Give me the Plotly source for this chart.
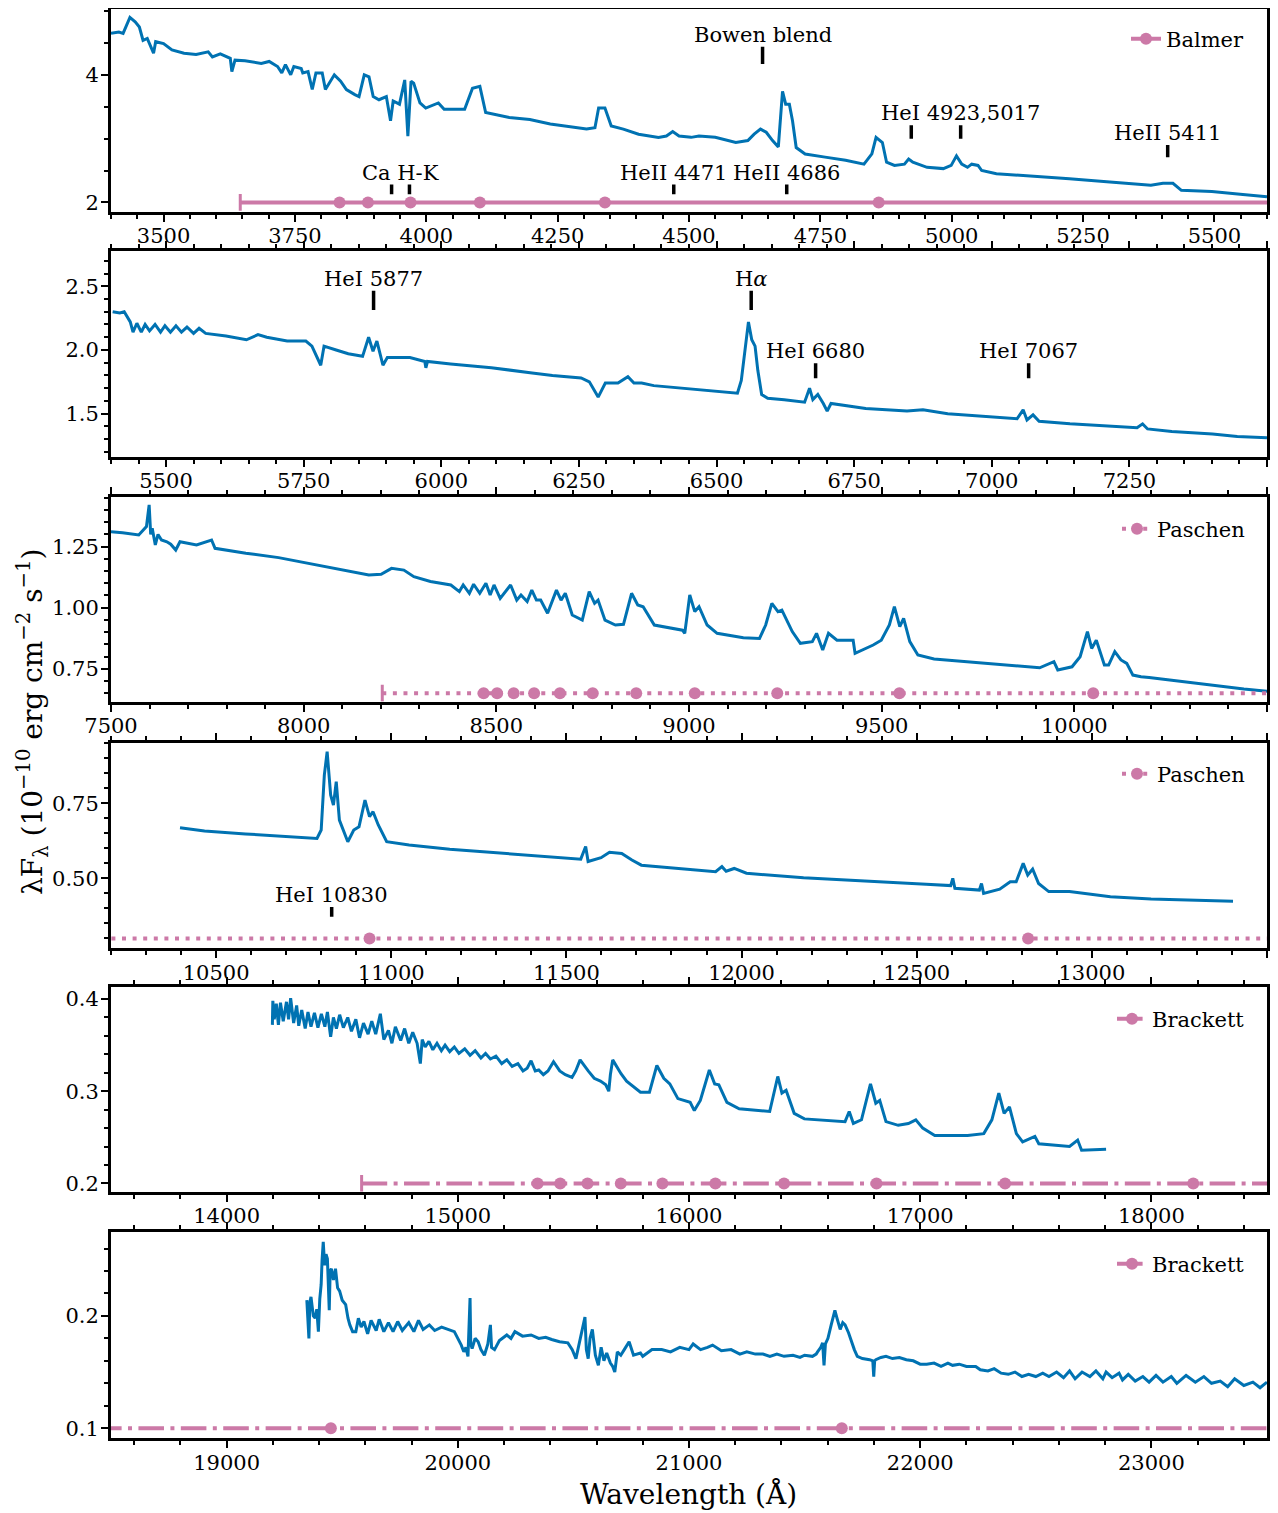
import plotly.graph_objects as go

# ---------------- data ----------------
# Panel 1 (optical blue)
wl1 = [3400, 3415, 3423, 3436, 3446, 3454, 3461, 3469, 3481, 3485,
       3500, 3516, 3539, 3562, 3585, 3593, 3608, 3627, 3630, 3636,
       3655, 3686, 3701, 3717, 3725, 3732, 3742, 3748, 3762, 3765,
       3775, 3783, 3790, 3802, 3808, 3825, 3837, 3848, 3864, 3872,
       3882, 3891, 3899, 3910, 3924, 3932, 3937, 3949, 3959, 3965,
       3971, 3976, 3988, 3999, 4023, 4034, 4073, 4088, 4102, 4113,
       4158, 4197, 4236, 4305, 4321, 4328, 4340, 4352, 4375, 4404,
       4442, 4457, 4469, 4481, 4504, 4519, 4550, 4589, 4612, 4624,
       4636, 4647, 4659, 4670, 4678, 4684, 4691, 4697, 4704, 4721,
       4759, 4798, 4833, 4848, 4856, 4868, 4876, 4891, 4910, 4918,
       4926, 4937, 4953, 4984, 4999, 5009, 5019, 5030, 5038, 5050,
       5057, 5085, 5146, 5224, 5301, 5379, 5402, 5421, 5437, 5495,
       5549, 5596, 5600]
fl1 = [4.65, 4.67, 4.65, 4.90, 4.83, 4.75, 4.54, 4.57, 4.34, 4.52,
       4.49, 4.39, 4.34, 4.32, 4.36, 4.28, 4.33, 4.26, 4.05, 4.23,
       4.22, 4.18, 4.21, 4.13, 4.03, 4.16, 4.00, 4.13, 4.10, 4.03,
       4.05, 3.77, 4.03, 4.03, 3.77, 4.00, 3.90, 3.77, 3.69, 3.66,
       4.00, 3.97, 3.66, 3.61, 3.66, 3.28, 3.59, 3.54, 3.92, 3.04,
       3.90, 3.87, 3.56, 3.48, 3.56, 3.46, 3.46, 3.79, 3.82, 3.41,
       3.33, 3.30, 3.23, 3.15, 3.17, 3.48, 3.48, 3.20, 3.15, 3.07,
       3.02, 3.04, 3.11, 3.04, 3.02, 3.04, 3.02, 2.94, 2.97, 3.07,
       3.15, 3.10, 2.97, 2.87, 3.74, 3.54, 3.54, 3.28, 2.86, 2.76,
       2.71, 2.66, 2.60, 2.76, 3.02, 2.94, 2.63, 2.58, 2.60, 2.68,
       2.63, 2.60, 2.55, 2.53, 2.58, 2.73, 2.60, 2.55, 2.60, 2.58,
       2.50, 2.45, 2.42, 2.37, 2.32, 2.27, 2.30, 2.30, 2.19, 2.17,
       2.13, 2.09, 2.09]

# Panel 2 (optical red)
wl2 = [5403, 5416, 5424, 5435, 5440, 5447, 5455, 5462, 5470, 5480,
       5490, 5498, 5508, 5518, 5528, 5538, 5550, 5560, 5572, 5609,
       5646, 5667, 5683, 5720, 5754, 5765, 5781, 5787, 5809, 5831,
       5857, 5868, 5876, 5883, 5894, 5902, 5943, 5970, 5972, 5975,
       6017, 6091, 6165, 6202, 6254, 6269, 6285, 6298, 6321, 6339,
       6350, 6364, 6386, 6438, 6512, 6538, 6545, 6558, 6564, 6570,
       6575, 6582, 6593, 6623, 6660, 6669, 6675, 6684, 6694, 6701,
       6708, 6771, 6846, 6875, 6920, 6994, 7046, 7057, 7064, 7075,
       7086, 7142, 7216, 7264, 7274, 7283, 7327, 7401, 7446, 7498,
       7500]
fl2 = [2.30, 2.29, 2.30, 2.22, 2.14, 2.21, 2.14, 2.20, 2.15, 2.20,
       2.14, 2.19, 2.14, 2.19, 2.14, 2.18, 2.13, 2.17, 2.13, 2.11,
       2.08, 2.12, 2.10, 2.07, 2.07, 2.03, 1.88, 2.03, 2.00, 1.97,
       1.95, 2.10, 1.99, 2.07, 1.88, 1.94, 1.94, 1.91, 1.86, 1.91,
       1.89, 1.86, 1.82, 1.80, 1.78, 1.75, 1.63, 1.74, 1.74, 1.79,
       1.74, 1.74, 1.72, 1.70, 1.67, 1.66, 1.76, 2.22, 2.08, 2.03,
       1.84, 1.65, 1.62, 1.61, 1.59, 1.70, 1.61, 1.65, 1.58, 1.52,
       1.58, 1.54, 1.52, 1.53, 1.50, 1.48, 1.46, 1.53, 1.45, 1.49,
       1.44, 1.42, 1.40, 1.39, 1.42, 1.38, 1.36, 1.34, 1.32, 1.31,
       1.31]

# Panel 3 (Paschen region)
wl3 = [7500, 7530, 7572, 7592, 7599, 7603, 7607, 7615, 7622, 7631,
       7645, 7655, 7668, 7679, 7722, 7761, 7770, 7850, 7935, 8020,
       8105, 8169, 8201, 8228, 8260, 8286, 8329, 8382, 8404, 8414,
       8430, 8441, 8457, 8473, 8484, 8494, 8510, 8537, 8553, 8564,
       8580, 8592, 8604, 8615, 8633, 8656, 8668, 8679, 8697, 8723,
       8741, 8755, 8764, 8782, 8809, 8830, 8851, 8867, 8881, 8894,
       8910, 8983, 8989, 9002, 9015, 9026, 9047, 9073, 9141, 9183,
       9199, 9215, 9231, 9241, 9268, 9289, 9320, 9331, 9347, 9362,
       9384, 9426, 9431, 9478, 9499, 9520, 9533, 9547, 9557, 9573,
       9594, 9636, 9720, 9826, 9910, 9947, 9957, 9994, 10015, 10034,
       10045, 10057, 10078, 10089, 10105, 10121, 10136, 10152, 10173, 10194,
       10400, 10440, 10500]
fl3 = [1.311, 1.307, 1.298, 1.332, 1.421, 1.30, 1.325, 1.257, 1.30, 1.277,
       1.27, 1.26, 1.236, 1.270, 1.257, 1.277, 1.243, 1.223, 1.205, 1.179,
       1.154, 1.134, 1.137, 1.161, 1.154, 1.127, 1.107, 1.093, 1.066, 1.093,
       1.059, 1.096, 1.059, 1.100, 1.052, 1.093, 1.038, 1.093, 1.031, 1.052,
       1.025, 1.072, 1.031, 1.031, 0.977, 1.072, 1.031, 1.059, 0.970, 0.949,
       1.066, 1.018, 1.031, 0.949, 0.929, 0.932, 1.059, 1.011, 1.004, 0.970,
       0.929, 0.908, 0.895, 1.052, 0.984, 1.004, 0.929, 0.895, 0.877, 0.874,
       0.929, 1.018, 0.984, 0.990, 0.902, 0.854, 0.861, 0.895, 0.827, 0.895,
       0.867, 0.867, 0.813, 0.847, 0.867, 0.929, 1.004, 0.922, 0.956, 0.861,
       0.806, 0.790, 0.779, 0.765, 0.754, 0.779, 0.745, 0.758, 0.799, 0.902,
       0.833, 0.867, 0.765, 0.765, 0.820, 0.786, 0.772, 0.724, 0.717, 0.714,
       0.673, 0.667, 0.658]

# Panel 4 (J band)
wl4 = [10397, 10467, 10584, 10701, 10788, 10800, 10809, 10817, 10827, 10835,
       10843, 10852, 10876, 10893, 10908, 10925, 10938, 10948, 10963, 10987,
       11051, 11167, 11284, 11401, 11541, 11555, 11562, 11599, 11623, 11658,
       11687, 11714, 11827, 11926, 11944, 11956, 11979, 12014, 12177, 12294,
       12411, 12527, 12597, 12603, 12609, 12679, 12685, 12691, 12737, 12767,
       12784, 12804, 12817, 12831, 12848, 12877, 12936, 13053, 13169, 13286,
       13403]
fl4 = [0.669, 0.658, 0.648, 0.639, 0.633, 0.661, 0.844, 0.922, 0.778, 0.744,
       0.822, 0.694, 0.622, 0.661, 0.672, 0.761, 0.706, 0.722, 0.678, 0.622,
       0.611, 0.597, 0.587, 0.576, 0.564, 0.606, 0.556, 0.569, 0.587, 0.583,
       0.561, 0.544, 0.533, 0.522, 0.539, 0.524, 0.533, 0.517, 0.502, 0.494,
       0.487, 0.480, 0.476, 0.500, 0.467, 0.461, 0.483, 0.450, 0.464, 0.489,
       0.489, 0.550, 0.511, 0.531, 0.483, 0.456, 0.456, 0.439, 0.431, 0.428,
       0.424]

# Panel 5 (H band)
wl5 = [14198, 14200, 14206, 14215, 14224, 14233, 14245, 14259, 14268, 14277,
       14290, 14303, 14312, 14325, 14340, 14352, 14365, 14380, 14395, 14410,
       14425, 14436, 14450, 14462, 14475, 14489, 14505, 14524, 14540, 14559,
       14575, 14592, 14612, 14628, 14645, 14665, 14680, 14700, 14715, 14730,
       14753, 14770, 14788, 14805, 14824, 14838, 14846, 14859, 14875, 14892,
       14910, 14929, 14945, 14965, 14985, 15005, 15030, 15053, 15075, 15100,
       15120, 15141, 15165, 15190, 15212, 15235, 15260, 15282, 15300, 15317,
       15335, 15350, 15370, 15390, 15414, 15441, 15465, 15494, 15510, 15529,
       15564, 15590, 15617, 15640, 15653, 15660, 15670, 15706, 15730, 15760,
       15790, 15829, 15861, 15891, 15917, 15952, 16005, 16023, 16049, 16088,
       16111, 16129, 16164, 16217, 16323, 16349, 16384, 16402, 16420, 16455,
       16499, 16675, 16693, 16711, 16746, 16785, 16808, 16825, 16852, 16905,
       16949, 16981, 17011, 17063, 17205, 17275, 17310, 17340, 17363, 17386,
       17416, 17443, 17496, 17513, 17646, 17681, 17698, 17804]
fl5 = [0.372, 0.398, 0.378, 0.395, 0.372, 0.396, 0.376, 0.397, 0.378, 0.401,
       0.374, 0.393, 0.371, 0.388, 0.368, 0.386, 0.370, 0.385, 0.369, 0.384,
       0.370, 0.386, 0.359, 0.380, 0.368, 0.383, 0.369, 0.380, 0.365, 0.378,
       0.358, 0.374, 0.362, 0.376, 0.362, 0.384, 0.356, 0.366, 0.352, 0.370,
       0.355, 0.368, 0.352, 0.364, 0.352, 0.330, 0.356, 0.348, 0.354, 0.345,
       0.352, 0.344, 0.350, 0.343, 0.348, 0.341, 0.346, 0.339, 0.344, 0.336,
       0.341, 0.335, 0.338, 0.330, 0.334, 0.327, 0.330, 0.322, 0.325, 0.333,
       0.322, 0.323, 0.318, 0.322, 0.332, 0.322, 0.318, 0.315, 0.322, 0.334,
       0.322, 0.314, 0.311, 0.307, 0.300, 0.318, 0.334, 0.319, 0.311, 0.305,
       0.299, 0.299, 0.328, 0.314, 0.308, 0.292, 0.288, 0.279, 0.290, 0.323,
       0.308, 0.307, 0.288, 0.281, 0.278, 0.278, 0.316, 0.298, 0.301, 0.276,
       0.270, 0.267, 0.278, 0.265, 0.269, 0.308, 0.287, 0.290, 0.267, 0.263,
       0.265, 0.269, 0.260, 0.252, 0.252, 0.254, 0.269, 0.298, 0.276, 0.283,
       0.254, 0.245, 0.251, 0.243, 0.240, 0.247, 0.236, 0.237]

# Panel 6 (K band)
wl6 = [19347, 19350, 19356, 19360, 19365, 19375, 19383, 19390, 19397, 19403,
       19409, 19413, 19418, 19424, 19430, 19436, 19444, 19448, 19453, 19462,
       19471, 19480, 19489, 19500, 19515, 19525, 19533, 19545, 19559, 19570,
       19582, 19594, 19610, 19625, 19647, 19660, 19680, 19700, 19720, 19740,
       19760, 19788, 19810, 19830, 19850, 19877, 19900, 19930, 19965, 19985,
       20000, 20015, 20026, 20035, 20044, 20050, 20053, 20056, 20062, 20075,
       20088, 20100, 20115, 20130, 20138, 20141, 20146, 20159, 20180, 20212,
       20230, 20247, 20280, 20317, 20350, 20380, 20406, 20440, 20476, 20495,
       20511, 20525, 20540, 20550, 20556, 20564, 20572, 20582, 20595, 20608,
       20620, 20632, 20644, 20660, 20670, 20679, 20690, 20705, 20720, 20741,
       20760, 20790, 20800, 20840, 20882, 20920, 20960, 21000, 21018, 21050,
       21080, 21102, 21140, 21182, 21220, 21250, 21287, 21320, 21350, 21380,
       21411, 21450, 21480, 21500, 21534, 21550, 21556, 21570, 21578, 21584,
       21590, 21601, 21615, 21631, 21640, 21654, 21665, 21675, 21690, 21702,
       21715, 21728, 21750, 21781, 21795, 21799, 21803, 21808, 21830, 21852,
       21880, 21910, 21940, 21970, 22000, 22028, 22060, 22090, 22120, 22140,
       22169, 22200, 22240, 22260, 22293, 22320, 22350, 22381, 22410, 22440,
       22469, 22500, 22530, 22557, 22590, 22620, 22646, 22670, 22700, 22734,
       22760, 22790, 22804, 22830, 22860, 22875, 22900, 22930, 22963, 22990,
       23020, 23050, 23086, 23110, 23150, 23190, 23227, 23260, 23298, 23330,
       23360, 23400, 23439, 23470, 23500]
fl6 = [0.214, 0.203, 0.180, 0.212, 0.217, 0.200, 0.198, 0.206, 0.186, 0.215,
       0.228, 0.250, 0.266, 0.245, 0.255, 0.251, 0.205, 0.240, 0.242, 0.232,
       0.242, 0.225, 0.222, 0.214, 0.210, 0.198, 0.192, 0.186, 0.186, 0.198,
       0.190, 0.195, 0.184, 0.196, 0.187, 0.197, 0.186, 0.194, 0.186, 0.195,
       0.187, 0.194, 0.186, 0.196, 0.188, 0.192, 0.187, 0.190, 0.187, 0.186,
       0.180, 0.174, 0.168, 0.172, 0.164, 0.200, 0.216, 0.175, 0.171, 0.180,
       0.177, 0.170, 0.165, 0.175, 0.192, 0.192, 0.172, 0.170, 0.178, 0.183,
       0.180, 0.186, 0.182, 0.183, 0.180, 0.181, 0.179, 0.177, 0.176, 0.170,
       0.162, 0.175, 0.190, 0.199, 0.170, 0.162, 0.180, 0.188, 0.165, 0.156,
       0.172, 0.160, 0.167, 0.158, 0.155, 0.150, 0.168, 0.165, 0.170, 0.177,
       0.165, 0.167, 0.164, 0.170, 0.170, 0.168, 0.172, 0.170, 0.175, 0.170,
       0.172, 0.174, 0.169, 0.170, 0.166, 0.168, 0.166, 0.166, 0.164, 0.166,
       0.164, 0.165, 0.163, 0.165, 0.164, 0.166, 0.168, 0.172, 0.176, 0.156,
       0.175, 0.180, 0.192, 0.205, 0.198, 0.188, 0.194, 0.192, 0.185, 0.177,
       0.170, 0.164, 0.162, 0.161, 0.160, 0.146, 0.160, 0.161, 0.163, 0.164,
       0.162, 0.163, 0.161, 0.160, 0.157, 0.157, 0.158, 0.155, 0.158, 0.156,
       0.157, 0.155, 0.155, 0.152, 0.151, 0.153, 0.149, 0.148, 0.150, 0.146,
       0.148, 0.146, 0.149, 0.146, 0.150, 0.145, 0.151, 0.144, 0.150, 0.146,
       0.151, 0.144, 0.150, 0.145, 0.149, 0.143, 0.148, 0.142, 0.146, 0.141,
       0.147, 0.141, 0.146, 0.140, 0.147, 0.141, 0.146, 0.140, 0.142, 0.137,
       0.144, 0.138, 0.141, 0.136, 0.141]

spec_wl = [wl1, wl2, wl3, wl4, wl5, wl6]
spec_fl = [fl1, fl2, fl3, fl4, fl5, fl6]
for a, b in zip(spec_wl, spec_fl):
    assert len(a) == len(b), (len(a), len(b))

# hydrogen series: name, limit, line wavelengths, (panel, level) where drawn
series_name = ["Balmer", "Paschen", "Brackett"]
series_limit = [3646, 8204, 14584]
series_lines = [
    [3835, 3889, 3970, 4102, 4340, 4861],
    [8467, 8502, 8545, 8598, 8665, 8750, 8863, 9015, 9229, 9546, 10049, 10938, 12818],
    [15345, 15443, 15561, 15705, 15885, 16114, 16411, 16811, 17367, 18181, 19451, 21661],
]
series_panels = [[1], [3, 4], [5, 6]]
series_levels = [[2.0], [0.65, 0.30], [0.20, 0.10]]

# identified lines: panel, label, label centre, tick wavelengths, tick bottom/top
lab_panel = [1, 1, 1, 1, 1, 1, 2, 2, 2, 2, 4]
lab_text = ["Ca H-K", "HeII 4471", "HeII 4686", "Bowen blend", "HeI 4923,5017",
            "HeII 5411", "HeI 5877", "H<i>α</i>", "HeI 6680", "HeI 7067", "HeI 10830"]
lab_text_x = [3951, 4471, 4686, 4640, 5017, 5411, 5877, 6563, 6680, 7067, 10830]
lab_ticks = [[3934, 3968], [4471], [4686], [4640], [4923, 5017], [5411],
             [5877], [6563], [6680], [7067], [10830]]
lab_ybot = [2.13, 2.13, 2.13, 4.17, 3.00, 2.71, 2.314, 2.314, 1.777, 1.777, 0.372]
lab_ytop = [2.28, 2.28, 2.28, 4.44, 3.21, 2.90, 2.465, 2.465, 1.895, 1.895, 0.405]

# ---------------- styling / layout ----------------
W, H = 1278, 1513          # window size
OFF = 8                    # default page body margin
FW, FH = W - OFF, H - OFF  # figure size
BLUE = "#0072B2"
PINK = "#CC79A7"
FONT = "DejaVu Serif"
series_dash = ["solid", "4px,6.6px", "25.6px,6.4px,4px,6.4px"]

panel_xrange = [[3400, 5600], [5400, 7500], [7500, 10500], [10200, 13500],
                [13500, 18500], [18500, 23500]]
panel_yrange = [[1.85, 5.04], [1.162, 2.777], [0.615, 1.452], [0.267, 0.95],
                [0.191, 0.4134], [0.091, 0.275]]
x_dtick = [250, 250, 500, 500, 1000, 1000]
x_minor = [50, 50, 100, 100, 200, 200]
y_dtick = [2, 0.5, 0.25, 0.25, 0.1, 0.1]
y_minor = [0.5, 0.1, 0.05, 0.05, 0.02, 0.02]
y_fmt = ["d", ".1f", ".2f", ".2f", ".1f", ".1f"]

# window-pixel geometry of the panels
PL, PR = 111, 1267
panel_top = [8.5, 251, 497.3, 743.3, 986.7, 1231.7]
panel_bot = [212, 456.7, 701.7, 948.3, 1191.7, 1438.3]
legend_ypx = {1: 39, 3: 529, 4: 774, 5: 1019, 6: 1264}


def clamp(v):
    return max(0.0, min(1.0, v))


def px_x(px):
    return (px - OFF) / FW


def px_y(py):
    return 1 - (py - OFF) / FH


def sfx(k):
    return "" if k == 1 else str(k)


fig = go.Figure()
layout = {}
annotations = []

for i in range(6):
    k = i + 1
    xa, ya = "x" + sfx(k), "y" + sfx(k)
    fig.add_trace(go.Scatter(x=spec_wl[i], y=spec_fl[i], mode="lines",
                             line=dict(color=BLUE, width=3),
                             xaxis=xa, yaxis=ya, showlegend=False, hoverinfo="skip"))
    common = dict(showline=True, linewidth=3, linecolor="black", mirror="allticks",
                  ticks="outside", ticklen=7, tickwidth=2, tickcolor="black",
                  showgrid=False, zeroline=False,
                  tickfont=dict(family=FONT, size=21, color="black"))
    layout["xaxis" + sfx(k)] = dict(
        domain=[clamp(px_x(PL)), clamp(px_x(PR))], range=panel_xrange[i], anchor=ya,
        tick0=0, dtick=x_dtick[i], tickformat="d", ticklabelstandoff=-4,
        minor=dict(tick0=0, dtick=x_minor[i], ticks="outside", ticklen=4,
                   tickwidth=1.5, tickcolor="black", showgrid=False),
        **common)
    layout["yaxis" + sfx(k)] = dict(
        domain=[clamp(px_y(panel_bot[i])), clamp(px_y(panel_top[i]))],
        range=panel_yrange[i],
        anchor=xa, tick0=0, dtick=y_dtick[i], tickformat=y_fmt[i], ticklabelstandoff=-2,
        minor=dict(tick0=0, dtick=y_minor[i], ticks="outside", ticklen=4,
                   tickwidth=1.5, tickcolor="black", showgrid=False),
        **common)

# hydrogen series markers
leg_count = 0
for s in range(3):
    for p, lev in zip(series_panels[s], series_levels[s]):
        xa, ya = "x" + sfx(p), "y" + sfx(p)
        xmax = panel_xrange[p - 1][1]
        fig.add_trace(go.Scatter(x=[series_limit[s], xmax], y=[lev, lev], mode="lines",
                                 line=dict(color=PINK, width=4, dash=series_dash[s]),
                                 xaxis=xa, yaxis=ya, showlegend=False, hoverinfo="skip"))
        fig.add_trace(go.Scatter(x=series_lines[s], y=[lev] * len(series_lines[s]),
                                 mode="markers", marker=dict(color=PINK, size=12),
                                 xaxis=xa, yaxis=ya, showlegend=False, hoverinfo="skip"))
        fig.add_trace(go.Scatter(x=[series_limit[s]], y=[lev], mode="markers",
                                 marker=dict(symbol="line-ns", size=12,
                                             line=dict(color=PINK, width=3)),
                                 xaxis=xa, yaxis=ya, showlegend=False, hoverinfo="skip"))
        lid = "legend" if leg_count == 0 else "legend%d" % (leg_count + 1)
        leg_count += 1
        fig.add_trace(go.Scatter(x=[None], y=[None], mode="lines+markers",
                                 name=series_name[s], legend=lid,
                                 line=dict(color=PINK, width=4, dash=series_dash[s]),
                                 marker=dict(color=PINK, size=12),
                                 xaxis=xa, yaxis=ya, showlegend=True))
        layout[lid] = dict(x=px_x(1250), xanchor="right", y=px_y(legend_ypx[p]),
                           yanchor="middle", bgcolor="rgba(0,0,0,0)", borderwidth=0,
                           itemwidth=30,
                           font=dict(family=FONT, size=21, color="black"))

# line identifications
for j in range(len(lab_text)):
    p = lab_panel[j]
    xa, ya = "x" + sfx(p), "y" + sfx(p)
    xs, ys = [], []
    for t in lab_ticks[j]:
        xs += [t, t, None]
        ys += [lab_ybot[j], lab_ytop[j], None]
    fig.add_trace(go.Scatter(x=xs, y=ys, mode="lines", line=dict(color="black", width=3.5),
                             xaxis=xa, yaxis=ya, showlegend=False, hoverinfo="skip"))
    annotations.append(dict(x=lab_text_x[j], y=lab_ytop[j], xref=xa, yref=ya,
                            text=lab_text[j], showarrow=False, yanchor="bottom",
                            xanchor="center", yshift=-2,
                            font=dict(family=FONT, size=21, color="black")))

# axis titles
annotations.append(dict(x=px_x(688), y=px_y(1494), xref="paper", yref="paper",
                        text="Wavelength (Å)", showarrow=False,
                        xanchor="center", yanchor="middle",
                        font=dict(family=FONT, size=28, color="black")))
annotations.append(dict(x=px_x(32), y=px_y(722), xref="paper", yref="paper",
                        text="λF<sub>λ</sub> (10<sup>−10</sup> erg cm<sup>−2</sup> s<sup>−1</sup>)",
                        textangle=-90, showarrow=False,
                        xanchor="center", yanchor="middle",
                        font=dict(family=FONT, size=28, color="black")))

fig.update_layout(
    width=FW, height=FH, template="none",
    margin=dict(l=0, r=0, t=0, b=0),
    paper_bgcolor="white", plot_bgcolor="white",
    annotations=annotations,
    **layout,
)

fig.write_html("out.html")
